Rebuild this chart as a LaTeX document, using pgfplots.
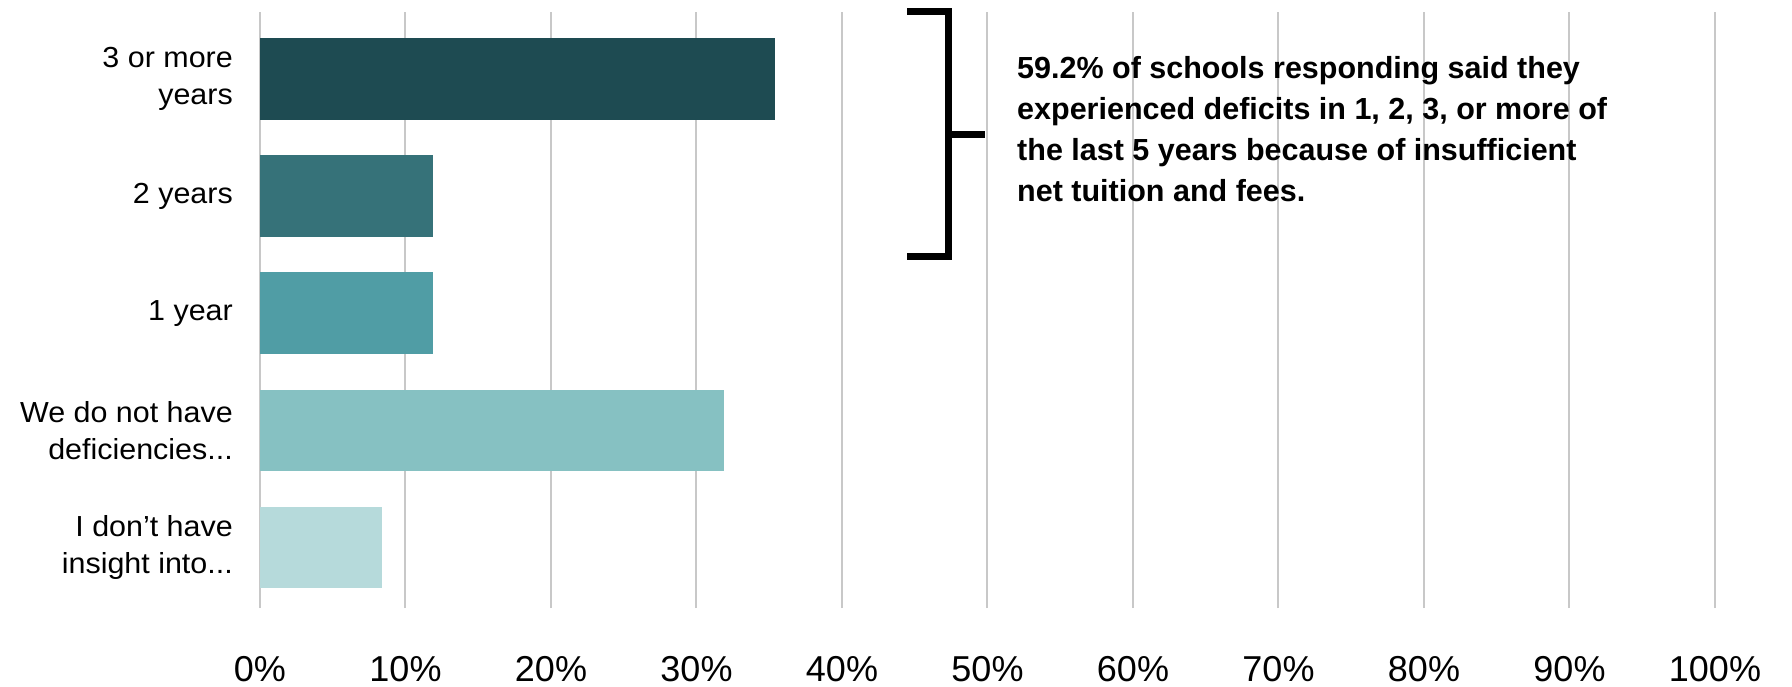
\documentclass[border=0pt]{standalone}
\usepackage{fontspec}
\setmainfont{Liberation Sans}
\newfontfamily\catfont{Liberation Sans}[FakeStretch=1.05]
\newfontfamily\notefont{Liberation Sans}
\usepackage{pgfplots}
\pgfplotsset{compat=1.18}

\definecolor{barA}{HTML}{1E4B52}
\definecolor{barB}{HTML}{367279}
\definecolor{barC}{HTML}{509DA5}
\definecolor{barD}{HTML}{86C1C2}
\definecolor{barE}{HTML}{B6DADB}
\definecolor{gridgray}{HTML}{C8C8C8}

\newcommand{\dotz}{.\kern0pt.\kern0pt.}

\begin{document}
\begin{tikzpicture}
% page = 1792 x 686, axis box at (260,608) from top-left
\path[use as bounding box] (-260pt,-78pt) rectangle (1532pt,608pt);
\begin{axis}[
    at={(0pt,0pt)}, anchor=south west,
    scale only axis,
    width=1455pt, height=596.3pt,
    xmin=0, xmax=100,
    ymin=-0.516, ymax=4.572,
    xtick={0,10,20,30,40,50,60,70,80,90,100},
    xticklabels={0\%,10\%,20\%,30\%,40\%,50\%,60\%,70\%,80\%,90\%,100\%},
    ytick={0,1,2,3,4},
    yticklabels={{I don’t have\\insight into\dotz},{We do not have\\deficiencies\dotz},{1 year},{2 years},{3 or more\\years}},
    xmajorgrids,
    major grid style={draw=gridgray, line width=2pt},
    axis line style={draw=none},
    tick style={draw=none},
    xticklabel style={font=\fontsize{36}{42}\selectfont, inner sep=0pt, anchor=north, yshift=-48pt},
    yticklabel style={font=\catfont\fontsize{29}{37}\selectfont, align=right, inner sep=0pt, anchor=east, xshift=-27pt},
    clip=false,
]
\addplot[xbar, bar shift=0pt, bar width=0.696, fill=barA, draw=none] coordinates {(35.4,4)};
\addplot[xbar, bar shift=0pt, bar width=0.696, fill=barB, draw=none] coordinates {(11.9,3)};
\addplot[xbar, bar shift=0pt, bar width=0.696, fill=barC, draw=none] coordinates {(11.9,2)};
\addplot[xbar, bar shift=0pt, bar width=0.696, fill=barD, draw=none] coordinates {(31.9,1)};
\addplot[xbar, bar shift=0pt, bar width=0.696, fill=barE, draw=none] coordinates {(8.4,0)};

% bracket and note
\draw[line width=7pt, line join=miter] (axis cs:44.5,4.572) -- (axis cs:47.32,4.572)
    -- (axis cs:47.32,2.479) -- (axis cs:44.5,2.479);
\draw[line width=7pt] (axis cs:47.32,3.52) -- (axis cs:49.8,3.52);
\node[anchor=north west, inner sep=0pt, align=left,
      font=\notefont\bfseries\fontsize{30.5}{41}\selectfont]
    at (axis cs:52.03,4.19)
    {59.2\% of schools responding said they\\
     experienced deficits in 1, 2, 3, or more of\\
     the last 5 years because of insufficient\\
     net tuition and fees.};
\end{axis}
\end{tikzpicture}
\end{document}
